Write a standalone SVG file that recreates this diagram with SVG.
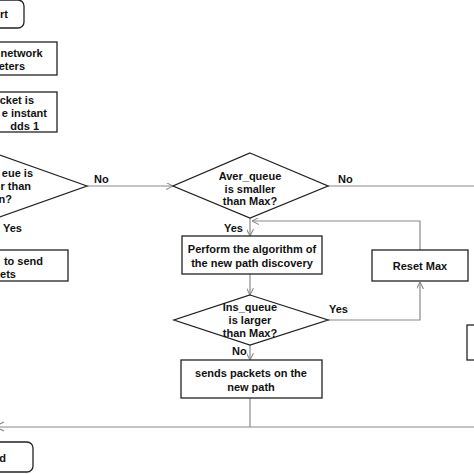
<svg xmlns="http://www.w3.org/2000/svg" width="474" height="474" viewBox="0 0 474 474">
<defs>
<style>
.box{fill:#fff;stroke:#222;stroke-width:1.3}
.t{font-family:"Liberation Sans",Arial,sans-serif;font-weight:bold;font-size:11px;fill:#111}
.c{fill:none;stroke:#8a8a8a;stroke-width:1.2}
</style>
<marker id="ah" viewBox="0 0 10 10" refX="10" refY="5" markerWidth="7" markerHeight="7" orient="auto" markerUnits="userSpaceOnUse">
<path d="M0,0 L10,5 L0,10" fill="none" stroke="#8a8a8a" stroke-width="1.5"/>
</marker>
</defs>
<rect width="474" height="474" fill="#fff"/>
<g id="connectors">
<line class="c" x1="87" y1="186" x2="173" y2="186" marker-end="url(#ah)"/>
<line class="c" x1="328" y1="186" x2="474" y2="186"/>
<line class="c" x1="250" y1="218" x2="250" y2="236" marker-end="url(#ah)"/>
<line class="c" x1="250" y1="274" x2="250" y2="295" marker-end="url(#ah)"/>
<polyline class="c" points="420,250 420,221 252,221" marker-end="url(#ah)"/>
<polyline class="c" points="328,320 420,320 420,282" marker-end="url(#ah)"/>
<line class="c" x1="250" y1="345" x2="250" y2="360" marker-end="url(#ah)"/>
<line class="c" x1="250" y1="398" x2="250" y2="427"/>
<line class="c" x1="0" y1="427" x2="474" y2="427"/>
<polyline class="c" points="4,422 0,424"/>
<polyline class="c" points="4,431 0,429"/>
<text class="t" x="94" y="183">No</text>
<text class="t" x="3" y="232">Yes</text>
<text class="t" x="338" y="183">No</text>
<text class="t" x="224" y="232">Yes</text>
<text class="t" x="329" y="313">Yes</text>
<text class="t" x="232" y="355">No</text>
</g>
<g id="start">
<rect class="box" x="-20" y="0" width="44" height="28" rx="6"/>
<text class="t" x="8" y="18" text-anchor="end">rt</text>
</g>
<g id="params">
<rect class="box" x="-20" y="42" width="77" height="33"/>
<text class="t" x="0.5" y="57">network</text>
<text class="t" x="25" y="70" text-anchor="end">eters</text>
</g>
<g id="packet">
<rect class="box" x="-20" y="92" width="77" height="40"/>
<text class="t" x="34" y="104" text-anchor="end">cket is</text>
<text class="t" x="47" y="117" text-anchor="end">e instant</text>
<text class="t" x="39" y="130" text-anchor="end">dds 1</text>
</g>
<g id="decision1">
<polygon class="box" points="87,186 -23,147 -133,186 -23,225"/>
<text class="t" x="33" y="177" text-anchor="end">eue is</text>
<text class="t" x="0.5" y="190">r than</text>
<text class="t" x="12" y="203" text-anchor="end">n?</text>
</g>
<g id="continue">
<rect class="box" x="-20" y="250" width="88" height="31"/>
<text class="t" x="43" y="265" text-anchor="end">to send</text>
<text class="t" x="16" y="278" text-anchor="end">ets</text>
</g>
<g id="decision2">
<polygon class="box" points="250,153 328,186 250,218 173,186"/>
<text class="t" x="250" y="180" text-anchor="middle">Aver_queue</text>
<text class="t" x="250" y="192.5" text-anchor="middle">is smaller</text>
<text class="t" x="250" y="205" text-anchor="middle">than Max?</text>
</g>
<g id="discovery">
<rect class="box" x="182" y="236" width="140" height="38"/>
<text class="t" x="252" y="253" text-anchor="middle">Perform the algorithm of</text>
<text class="t" x="252" y="267" text-anchor="middle">the new path discovery</text>
</g>
<g id="reset">
<rect class="box" x="372" y="250" width="96" height="31"/>
<text class="t" x="420" y="270" text-anchor="middle">Reset Max</text>
</g>
<g id="decision3">
<polygon class="box" points="250,295 328,320 250,345 174,320"/>
<text class="t" x="250" y="311" text-anchor="middle">Ins_queue</text>
<text class="t" x="250" y="324" text-anchor="middle">is larger</text>
<text class="t" x="250" y="337" text-anchor="middle">than Max?</text>
</g>
<g id="send">
<rect class="box" x="181" y="360" width="141" height="38"/>
<text class="t" x="251" y="377" text-anchor="middle">sends packets on the</text>
<text class="t" x="251" y="391" text-anchor="middle">new path</text>
</g>
<g id="rightbox">
<rect class="box" x="467" y="325" width="40" height="35"/>
</g>
<g id="end">
<rect class="box" x="-20" y="442" width="53" height="30" rx="6"/>
<text class="t" x="6" y="462" text-anchor="end">d</text>
</g>
</svg>
